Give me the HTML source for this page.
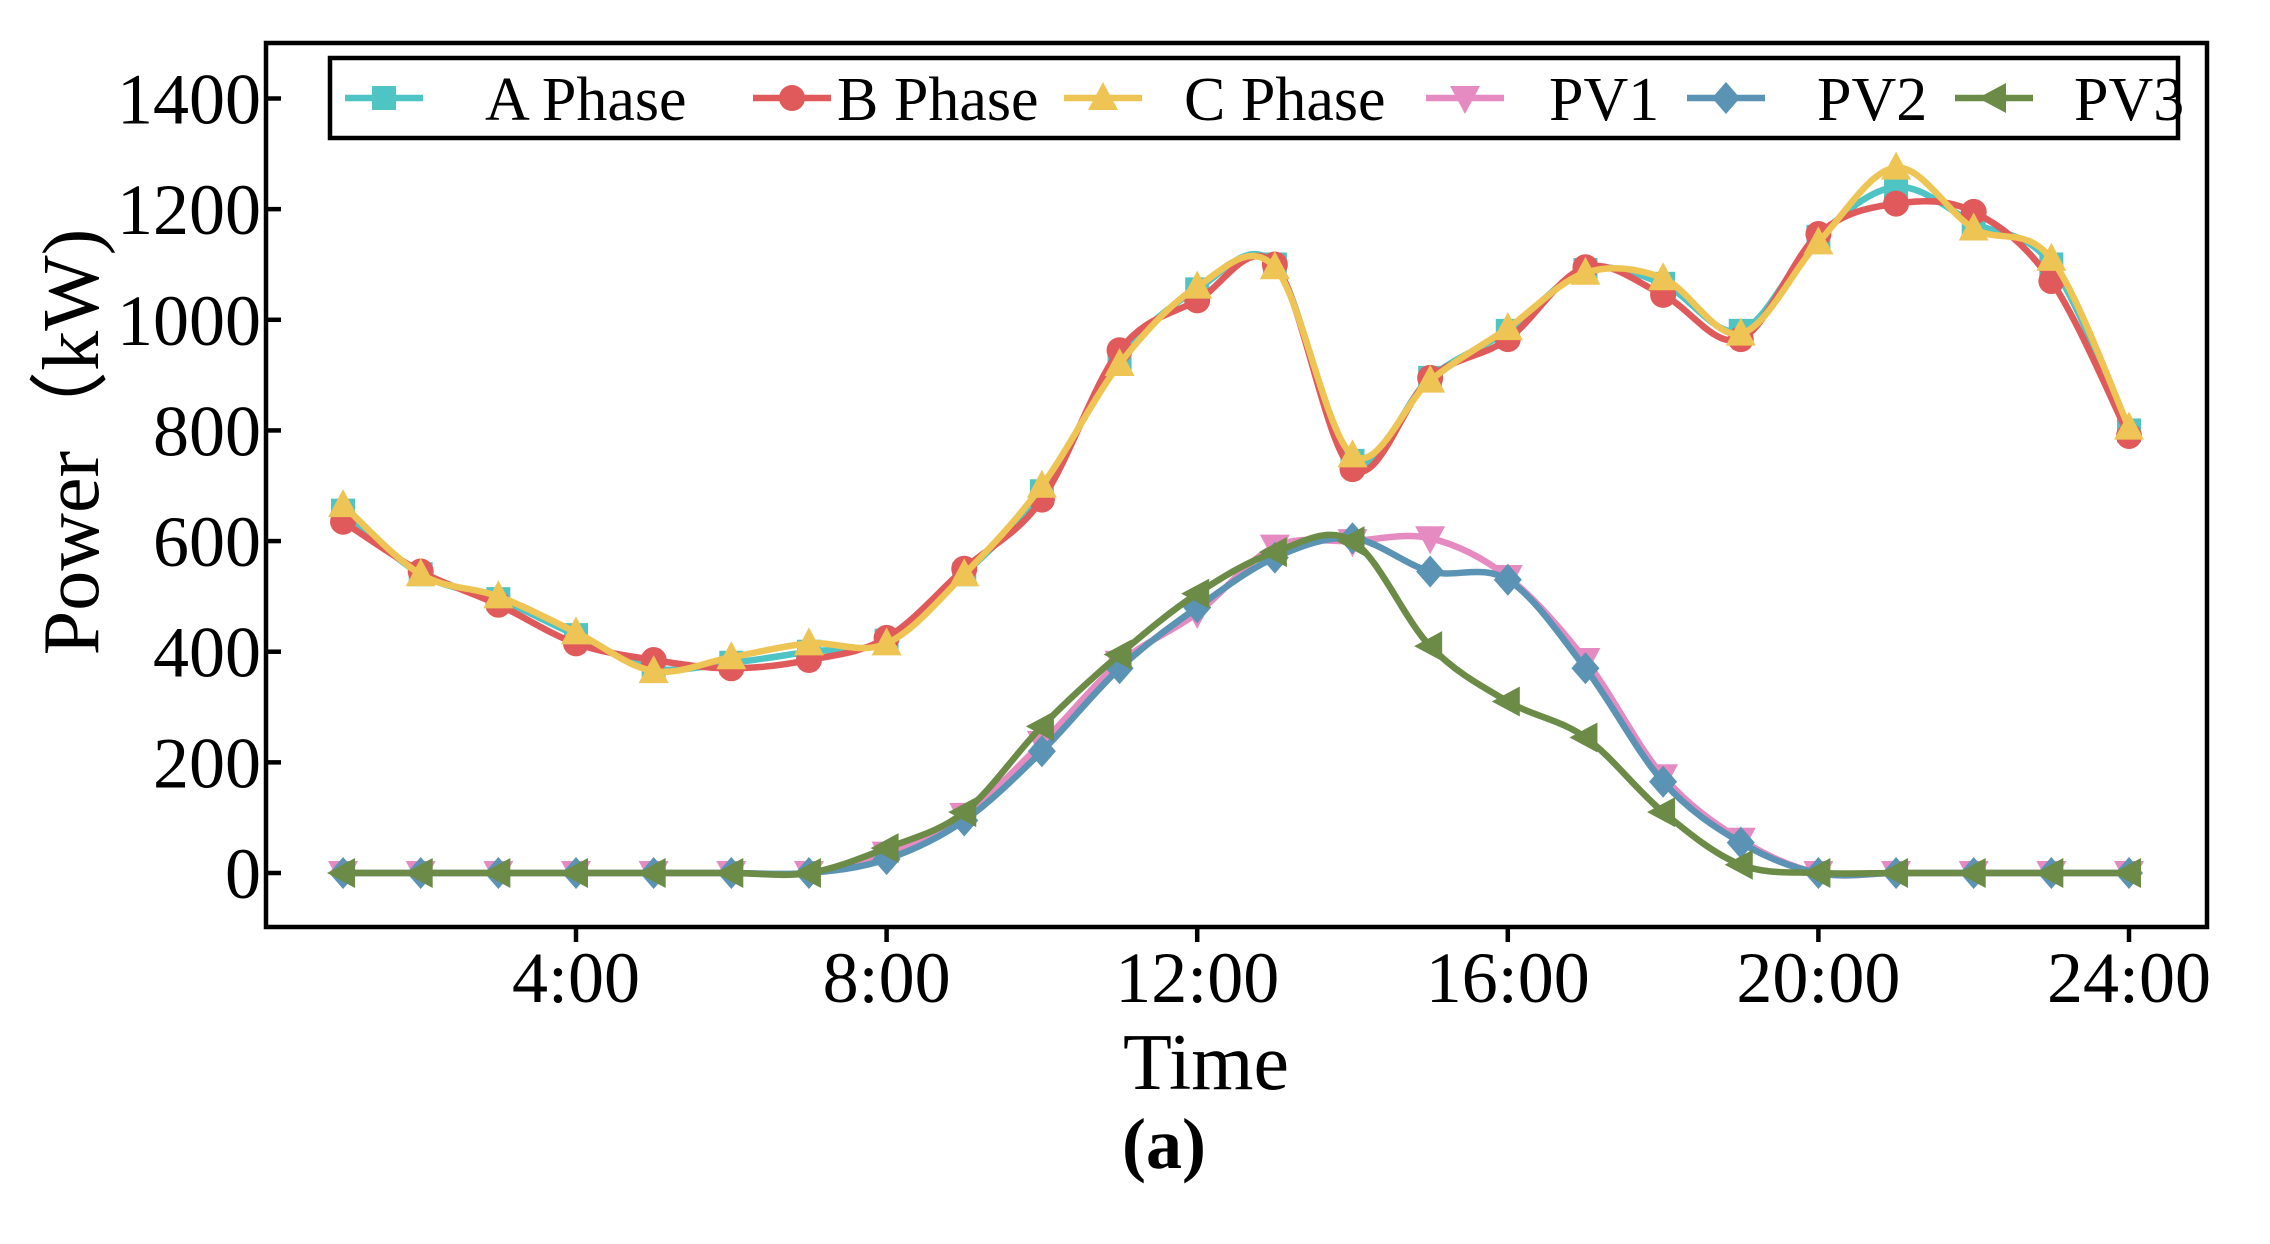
<!DOCTYPE html>
<html><head><meta charset="utf-8"><style>
html,body{margin:0;padding:0;background:#fff;}
svg text{font-family:"Liberation Serif",serif;fill:#000;}
</style></head><body>
<svg id="chart" width="2270" height="1239" viewBox="0 0 2270 1239" xmlns="http://www.w3.org/2000/svg">
<rect x="0" y="0" width="2270" height="1239" fill="#fff"/>
<g id="series"></g>
<rect x="266" y="43" width="1941" height="884" fill="none" stroke="#000" stroke-width="4.5"/>
<g id="axes"></g>
<g id="legend"></g>
<text x="1206" y="1089" font-size="80" text-anchor="middle">Time</text>
<text x="1164" y="1168" font-size="72" font-weight="bold" text-anchor="middle">(a)</text>
<text transform="translate(98,442) rotate(-90)" font-size="80" text-anchor="middle">Power（kW)</text>
</svg>
<script>
const hours = [1,2,3,4,5,6,7,8,9,10,11,12,13,14,15,16,17,18,19,20,21,22,23,24];
const aPhase = [655,540,495,430,370,380,400,420,540,690,930,1055,1100,745,895,980,1090,1065,980,1150,1240,1175,1100,800];
const bPhase = [635,545,485,415,385,370,385,425,550,675,945,1035,1100,730,895,965,1095,1045,965,1155,1210,1195,1070,790];
const cPhase = [665,540,500,435,365,390,415,415,540,700,920,1060,1095,755,890,985,1085,1075,975,1140,1275,1165,1110,805];
const pv1 = [0,0,0,0,0,0,0,35,105,235,380,470,590,600,605,535,385,175,60,0,0,0,0,0];
const pv2 = [0,0,0,0,0,0,0,25,95,220,370,480,570,605,545,530,370,165,55,0,0,0,0,0];
const pv3 = [0,0,0,0,0,0,0,45,110,265,395,505,580,600,410,310,245,110,15,0,0,0,0,0];
const yTicks = [0,200,400,600,800,1000,1200,1400];
const xTicks = [4,8,12,16,20,24];
const xTickLabels = ["4:00","8:00","12:00","16:00","20:00","24:00"];
const seriesNames = ["A Phase","B Phase","C Phase","PV1","PV2","PV3"];

const NS="http://www.w3.org/2000/svg";
function xs(h){return 576+(h-4)*77.65;}
function ys(v){return 873-v*(774.5/1400);}
function mk(tag,attrs,parent){const e=document.createElementNS(NS,tag);for(const k in attrs)e.setAttribute(k,attrs[k]);parent.appendChild(e);return e;}

const axes=document.getElementById('axes');
yTicks.forEach(v=>{
  const t=mk('line',{x1:266,x2:281,y1:ys(v),y2:ys(v),stroke:'#000','stroke-width':4.5},axes);
  
  
  const l=mk('text',{x:261,y:ys(v)+25,'font-size':72,'text-anchor':'end'},axes);
  l.textContent=v;
  
  
});
xTicks.forEach((h,i)=>{
  const t=mk('line',{x1:xs(h),x2:xs(h),y1:927,y2:942,stroke:'#000','stroke-width':4.5},axes);
  
  
  const l=mk('text',{x:xs(h),y:1002,'font-size':72,'text-anchor':'middle'},axes);
  l.textContent=xTickLabels[i];
  
  
});

function pathD(vals){
  const p=vals.map((v,i)=>[xs(hours[i]),ys(v)]);
  let d=`M${p[0][0]},${p[0][1]}`;
  for(let i=0;i<p.length-1;i++){
    const p0=p[Math.max(0,i-1)],p1=p[i],p2=p[i+1],p3=p[Math.min(p.length-1,i+2)];
    const c1=[p1[0]+(p2[0]-p0[0])/6,p1[1]+(p2[1]-p0[1])/6];
    const c2=[p2[0]-(p3[0]-p1[0])/6,p2[1]-(p3[1]-p1[1])/6];
    d+=` C${c1[0]},${c1[1]} ${c2[0]},${c2[1]} ${p2[0]},${p2[1]}`;
  }
  return d;
}
function marker(type,x,y,color,parent){
  const s=13;let e;
  if(type==='square')e=mk('rect',{x:x-s+1,y:y-s+1,width:2*s-2,height:2*s-2,fill:color},parent);
  else if(type==='circle')e=mk('circle',{cx:x,cy:y,r:s,fill:color},parent);
  else if(type==='up')e=mk('polygon',{points:`${x},${y-s-3} ${x-s-2},${y+s-1} ${x+s+2},${y+s-1}`,fill:color},parent);
  else if(type==='down')e=mk('polygon',{points:`${x},${y+s+3} ${x-s-2},${y-s+1} ${x+s+2},${y-s+1}`,fill:color},parent);
  else if(type==='diamond')e=mk('polygon',{points:`${x},${y-s-3} ${x+s+1},${y} ${x},${y+s+3} ${x-s-1},${y}`,fill:color},parent);
  else e=mk('polygon',{points:`${x-s-3},${y} ${x+s-1},${y-s-2} ${x+s-1},${y+s+2}`,fill:color},parent);
  return e;
}
const series=[
  {vals:aPhase,color:'#4fc4c4',m:'square',name:'a-phase'},
  {vals:bPhase,color:'#e05a5c',m:'circle',name:'b-phase'},
  {vals:cPhase,color:'#eec455',m:'up',name:'c-phase'},
  {vals:pv1,color:'#e68bc2',m:'down',name:'pv1'},
  {vals:pv2,color:'#5a93b4',m:'diamond',name:'pv2'},
  {vals:pv3,color:'#6b8b47',m:'left',name:'pv3'}
];
const sg=document.getElementById('series');
series.forEach(s=>{
  const g=mk('g',{},sg);
  
  
  const p=mk('path',{d:pathD(s.vals),fill:'none',stroke:s.color,'stroke-width':6.5},g);
  
  
  s.vals.forEach((v,i)=>{
    const m=marker(s.m,xs(hours[i]),ys(v),s.color,g);
    
    
  });
});

const lg=document.getElementById('legend');
const lb=mk('rect',{x:330,y:58,width:1848,height:80,fill:'#fff',stroke:'#000','stroke-width':4.5},lg);


const lineStarts=[345,753,1064,1426,1687,1955];
const textStarts=[485,837,1184,1549,1817,2074];
series.forEach((s,i)=>{
  const g=mk('g',{},lg);
  
  
  mk('line',{x1:lineStarts[i],x2:lineStarts[i]+78,y1:98,y2:98,stroke:s.color,'stroke-width':6.5},g);
  marker(s.m,lineStarts[i]+39,98,s.color,g);
  const t=mk('text',{x:textStarts[i],y:120,'font-size':62},g);
  t.textContent=seriesNames[i];
  
  
});
</script>
</body></html>
